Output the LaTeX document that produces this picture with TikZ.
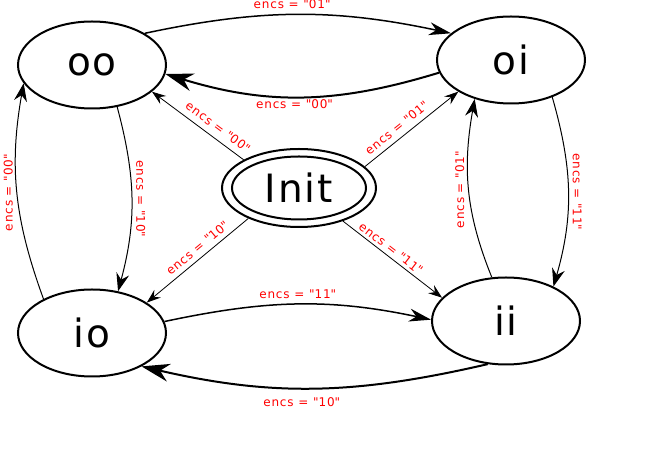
\documentclass[tikz,border=0pt]{standalone}
\usepackage{fontspec}
\setmainfont{DejaVu Sans}
\newfontfamily\lblfont[LetterSpace=7]{DejaVu Sans}
\newfontfamily\statefont[LetterSpace=5]{DejaVu Sans}
\newcommand\myq{\textquotedbl}
\usetikzlibrary{arrows.meta,shapes.geometric}
\begin{document}
\begin{tikzpicture}[x=1pt,y=1pt,
  state/.style={ellipse, draw, line width=2pt, minimum width=148pt, minimum height=87pt, inner sep=0pt, font=\statefont\fontsize{39}{39}\selectfont},
  lbl/.style={text=red, font=\lblfont\fontsize{12}{12}\selectfont, inner sep=1pt},
  vlbl/.style={lbl, anchor=south, inner sep=4pt},
  thickfw/.style={line width=1.5pt, -{Stealth[length=22pt,width=13pt,inset=7pt]}},
  thickbw/.style={line width=2pt, -{Stealth[length=28pt,width=18pt,inset=9pt]}},
  vert/.style={line width=1pt, -{Stealth[length=18pt,width=13pt,inset=6pt]}},
  diag/.style={line width=0.8pt, -{Stealth[length=14pt,width=10pt,inset=5pt]}},
]
\useasboundingbox (0,0) rectangle (654,452);
\node[state] (oo) at (92,387) {oo};
\node[state] (oi) at (511,392) {oi};
\node[state] (io) at (92,119) {io};
\node[state] (ii) at (506,131) {ii};
\node[ellipse, draw, line width=2pt, minimum width=154pt, minimum height=78pt, inner sep=0pt] (init) at (299,264) {};
\node[ellipse, draw, line width=2pt, minimum width=134pt, minimum height=63pt, inner sep=0pt, font=\statefont\fontsize{39}{39}\selectfont] (initin) at (init.center) {Init};

\draw[thickfw] (oo.31) to[out=12,in=168] node[lbl,above=4pt,pos=0.48] {encs = \myq01\myq} (oi.156);
\draw[thickbw] (oi.190) to[out=197,in=343] node[lbl,below=1pt,pos=0.53] {encs = \myq00\myq} (oo.-7);
\draw[thickfw] (io.9) to[out=12,in=168] node[lbl,above=4pt] {encs = \myq11\myq} (ii.179);
\draw[thickbw] (ii.247) to[out=193,in=347] node[lbl,below=7pt,pos=0.54] {encs = \myq10\myq} (io.-34);

\draw[diag] (init.153) -- node[lbl,sloped,above=5pt,pos=0.35] {encs = \myq00\myq} (oo.-24);
\draw[diag] (init.18) -- node[lbl,sloped,above=4.5pt,pos=0.41] {encs = \myq01\myq} (oi.211);
\draw[diag] (init.211) -- node[lbl,sloped,above=4pt,pos=0.44] {encs = \myq10\myq} (io.29);
\draw[diag] (init.-37) -- node[lbl,sloped,above=2pt,pos=0.435] {encs = \myq11\myq} (ii.160);

\draw[vert] (oo.-59) to[out=-75,in=75] node[vlbl,rotate=-90] {encs = \myq10\myq} (io.58);
\draw[vert] (io.145) to[out=110,in=260] node[vlbl,rotate=90] {encs = \myq00\myq} (oo.195);
\draw[vert] (oi.-42) to[out=-74,in=74] node[vlbl,rotate=-90] {encs = \myq11\myq} (ii.36);
\draw[vert] (ii.108) to[out=112,in=260] node[vlbl,rotate=90] {encs = \myq01\myq} (oi.227);
\end{tikzpicture}
\end{document}
